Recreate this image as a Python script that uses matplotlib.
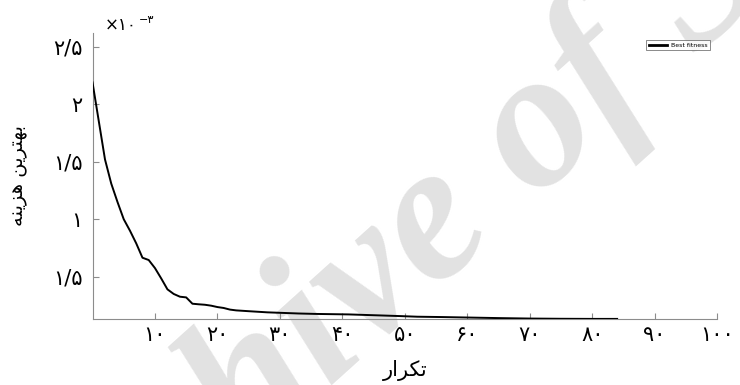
import matplotlib
matplotlib.use("Agg")
import matplotlib.pyplot as plt

# best cost per iteration (units of 1e-3)
iters = [0, 2, 3, 4, 5, 6, 7, 8, 9, 10, 11, 12, 13, 14, 15, 16, 17, 18, 19, 20,
         21, 22, 23, 25, 28, 30, 33, 36, 41, 45, 49, 52, 56, 60, 65, 70, 75, 80, 84]
best_cost = [2.19, 1.52, 1.31, 1.15, 1.00, 0.90, 0.79, 0.665, 0.645, 0.575, 0.485,
             0.39, 0.35, 0.326, 0.32, 0.265, 0.26, 0.256, 0.248, 0.236, 0.228,
             0.214, 0.207, 0.20, 0.19, 0.186, 0.18, 0.176, 0.172, 0.165, 0.158,
             0.152, 0.149, 0.145, 0.14, 0.136, 0.134, 0.133, 0.133]

xticks = [10, 20, 30, 40, 50, 60, 70, 80, 90, 100]
xticklabels = ["۱۰", "۲۰", "۳۰", "۴۰", "۵۰", "۶۰", "۷۰", "۸۰", "۹۰", "۱۰۰"]
yticks = [0.5, 1.0, 1.5, 2.0, 2.5]
yticklabels = ["۱/۵", "۱", "۱/۵", "۲", "۲/۵"]

# persian labels in visual order with presentation forms (no shaping in mpl)
xlabel = "\uFEAD\uFE8D\uFEAE\uFB91\uFE97"  # تکرار
ylabel = "\uFEEA\uFEE8\uFBFE\uFEB0\uFEEB \uFEE6\uFBFE\uFEAE\uFE98\uFEEC\uFE91"  # بهترین هزینه

plt.rcParams['font.family'] = ['DejaVu Sans']

fig = plt.figure(figsize=(7.4, 3.85), dpi=100)
ax = fig.add_axes([0.125, 0.1714, 0.844, 0.743])
ax.set_zorder(1)

# watermark (behind the axes)
fig.text(0.612, 0.43, "Archive of SID", fontsize=142, family='Liberation Serif',
         weight='bold', style='italic', color='#e2e2e2', rotation=42,
         ha='center', va='center', zorder=0)

ax.patch.set_alpha(0)
ax.plot(iters, best_cost, color='black', lw=1.4, label='Best fitness', zorder=3)

ax.set_xlim(0, 100)
ax.set_ylim(0.132, 2.62)
ax.set_xticks(xticks)
ax.set_xticklabels(xticklabels, fontsize=15)
ax.set_yticks(yticks)
ax.set_yticklabels(yticklabels, fontsize=15)

for s in ['top', 'right']:
    ax.spines[s].set_visible(False)
for s in ['left', 'bottom']:
    ax.spines[s].set_color('#8c8c8c')
    ax.spines[s].set_linewidth(0.8)
ax.tick_params(direction='in', length=4, color='#8c8c8c', width=0.8)
ax.tick_params(axis='y', pad=7)
ax.tick_params(axis='x', pad=4)

ax.set_xlabel(xlabel, fontsize=15, labelpad=11)
ax.set_ylabel(ylabel, fontsize=14, labelpad=18)

# exponent label
fig.text(0.142, 0.912, "×۱۰", fontsize=12, ha='left', va='bottom')
fig.text(0.188, 0.935, "−۳", fontsize=8, ha='left', va='bottom')

leg = ax.legend(loc='upper right', bbox_to_anchor=(0.959, 0.896),
                bbox_transform=fig.transFigure, fontsize=4.5, frameon=True,
                fancybox=False, handlelength=3, borderpad=0.4, handletextpad=0.5,
                borderaxespad=0)
leg.get_frame().set_edgecolor('#555555')
leg.get_frame().set_linewidth(0.6)
leg.get_lines()[0].set_linewidth(2)

fig.savefig("out.png", dpi=100)
